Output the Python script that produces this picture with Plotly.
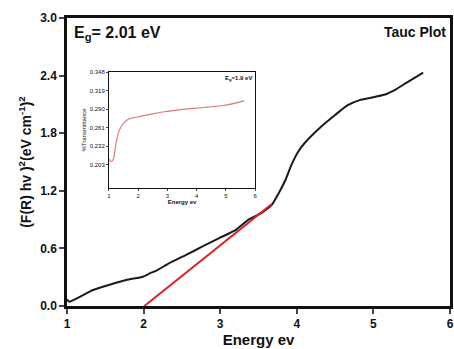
import plotly.graph_objects as go

# Main Tauc plot data
energy = [1.0, 1.03, 1.34, 1.77, 1.99, 2.08, 2.16, 2.33, 2.46, 2.55, 2.77, 2.98, 3.20,
          3.37, 3.54, 3.67, 3.76, 3.85, 3.93, 4.02, 4.10, 4.32, 4.50, 4.66, 4.82,
          4.97, 5.14, 5.30, 5.44, 5.65]
tauc = [0.07, 0.045, 0.167, 0.27, 0.305, 0.34, 0.365, 0.445, 0.497, 0.53, 0.62, 0.705, 0.79,
        0.9, 0.97, 1.05, 1.17, 1.31, 1.47, 1.61, 1.695, 1.87, 1.99, 2.09, 2.145,
        2.17, 2.20, 2.26, 2.33, 2.43]

# Linear fit (band gap extrapolation)
fit_x = [2.01, 3.67]
fit_y = [0.0, 1.06]

# Inset transmittance data
ins_energy = [1.0, 1.08, 1.16, 1.25, 1.36, 1.53, 1.70, 2.04, 2.49, 2.95, 3.40, 3.68,
              4.24, 4.92, 5.32, 5.62]
ins_trans = [0.2119, 0.208, 0.2135, 0.2394, 0.2577, 0.2698, 0.275, 0.2785, 0.2828,
             0.2864, 0.289, 0.2906, 0.2926, 0.2957, 0.2995, 0.303]

main_yticks = [0.0, 0.6, 1.2, 1.8, 2.4, 3.0]
main_xticks = [1, 2, 3, 4, 5, 6]
ins_yticks = [0.203, 0.232, 0.261, 0.290, 0.319, 0.348]
ins_xticks = [1, 2, 3, 4, 5, 6]

FONT = "Liberation Sans, Arial, sans-serif"

fig = go.Figure()
fig.add_trace(go.Scatter(x=energy, y=tauc, mode="lines",
                         line=dict(color="#1a1a1a", width=2, shape="spline", smoothing=0.5),
                         showlegend=False))
fig.add_trace(go.Scatter(x=fit_x, y=fit_y, mode="lines",
                         line=dict(color="#e02020", width=2), showlegend=False))
fig.add_trace(go.Scatter(x=ins_energy, y=ins_trans, mode="lines",
                         line=dict(color="#e07878", width=1.2, shape="spline", smoothing=0.6),
                         xaxis="x2", yaxis="y2", showlegend=False))

axis_common = dict(showline=True, linecolor="#111", mirror=True, ticks="outside",
                   showgrid=False, zeroline=False)

fig.update_layout(
    width=454, height=349,
    margin=dict(l=67, r=1, t=18, b=43),
    paper_bgcolor="white", plot_bgcolor="white",
    font=dict(family=FONT, color="#111"),
    xaxis=dict(range=[1, 6], tickvals=main_xticks, linewidth=2.5, ticklen=5, tickwidth=2,
               tickfont=dict(size=12, weight="bold"),
               title=dict(text="Energy ev", font=dict(size=15, weight="bold"), standoff=4),
               **axis_common),
    yaxis=dict(range=[0, 3.0], tickvals=main_yticks, tickformat=".1f", linewidth=2.5,
               ticklen=5, tickwidth=2, tickfont=dict(size=12, weight="bold"),
               title=dict(text="(F(R) hv )<sup>2</sup>(eV cm<sup>-1</sup>)<sup>2</sup>",
                          font=dict(size=14, weight="bold"), standoff=6),
               **axis_common),
    xaxis2=dict(domain=[0.1096, 0.4914], anchor="y2", range=[1, 6], tickvals=ins_xticks,
                linewidth=1, ticklen=2, tickwidth=1, tickfont=dict(size=6),
                title=dict(text="Energy ev", font=dict(size=6, weight="bold"), standoff=1),
                **axis_common),
    yaxis2=dict(domain=[0.4097, 0.8125], anchor="x2", range=[0.167, 0.348],
                tickvals=ins_yticks, tickformat=".3f", linewidth=1, ticklen=2, tickwidth=1,
                tickfont=dict(size=6),
                title=dict(text="%Transmittance", font=dict(size=6), standoff=2),
                **axis_common),
    annotations=[
        dict(text="E<sub>g</sub>= 2.01 eV", x=0.012, y=0.985, xref="paper", yref="paper",
             xanchor="left", yanchor="top", showarrow=False,
             font=dict(size=16, weight="bold")),
        dict(text="Tauc Plot", x=0.995, y=0.985, xref="paper", yref="paper",
             xanchor="right", yanchor="top", showarrow=False,
             font=dict(size=14, weight="bold")),
        dict(text="E<sub>g</sub>=1.9 eV", x=0.488, y=0.81, xref="paper", yref="paper",
             xanchor="right", yanchor="top", showarrow=False,
             font=dict(size=6, weight="bold")),
    ],
)

fig.write_html("out.html")
